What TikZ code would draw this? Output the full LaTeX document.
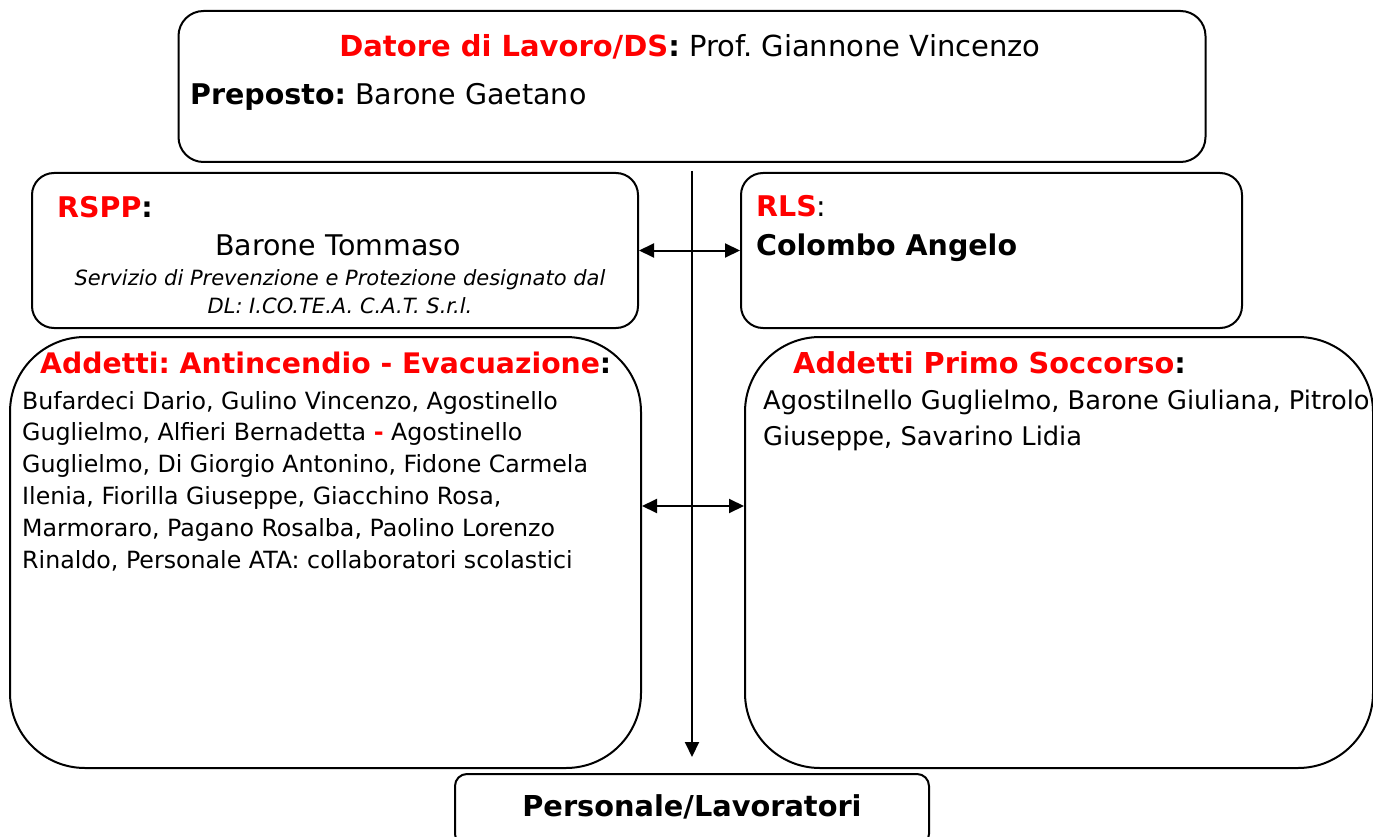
\documentclass[tikz,border=0pt]{standalone}
\usepackage{fontspec}
\setmainfont{DejaVu Sans}
\usetikzlibrary{arrows.meta,calc,positioning}
\definecolor{headred}{RGB}{255,0,0}
\newcommand{\hd}[1]{\textbf{\textcolor{headred}{#1}}}
\newcommand{\fs}[2]{\fontsize{#1}{#2}\selectfont}

\begin{document}
\frenchspacing
\begin{tikzpicture}[x=1pt, y=-1pt,
    box/.style={draw, line width=2pt, rounded corners=#1, inner sep=0pt},
    box/.default=22pt,
    link/.style={line width=2pt},
    tip/.tip={Triangle[length=15pt, width=14pt]},
    txt/.style={inner sep=0pt}]

        \useasboundingbox (0,0) rectangle (1373,837);

        % boxes
        \node[box=25pt, minimum width=1027pt, minimum height=151pt] (top) at (692,86.5) {};
        \node[box, minimum width=606pt, minimum height=155pt] (rspp) at (335,250.5) {};
        \node[box, minimum width=501pt, minimum height=155pt] (rls) at (991.5,250.5) {};
        \node[box=75pt, minimum width=631pt, minimum height=431pt] (anti) at (325.5,552.5) {};
        \node[box=75pt, minimum width=628pt, minimum height=431pt] (primo) at (1059,552.5) {};
        \node[box=12pt, minimum width=474pt, minimum height=72pt] (pers) at (692,810) {};

        % texts
        \node[txt, anchor=base, font=\fs{29}{34}] (ds) at (690,57)
            {\hd{Datore di Lavoro/DS}\textbf{:} Prof. Giannone Vincenzo};
        \node[txt, anchor=base west, font=\fs{28.5}{34}] (prep) at (190,105)
            {\textbf{Preposto:} Barone Gaetano};

        \node[txt, anchor=base west, font=\fs{28.5}{34}] (rsppt) at (57,218) {\hd{RSPP}\textbf{:}};
        \node[txt, anchor=base, font=\fs{28.5}{34}] (rsppn) at (338,255) {Barone Tommaso};
        % last line sits on the base anchor
        \node[txt, anchor=base, align=center, font=\fs{21}{28}\itshape] (rsppd) at (340,313)
            {Servizio di Prevenzione e Protezione designato dal\\DL: I.CO.TE.A. C.A.T. S.r.l.};

        \node[txt, anchor=base west, font=\fs{28.5}{34}] (rlst) at (756,216) {\hd{RLS}:};
        \node[txt, anchor=base west, font=\fs{28.5}{34}] (rlsn) at (756,255) {\textbf{Colombo Angelo}};

        \node[txt, anchor=base west, font=\fs{28.3}{32}] (antit) at (40,373)
            {\hd{Addetti: Antincendio - Evacuazione}\textbf{:}};
        \node[txt, anchor=base west, align=left, font=\fs{23.7}{31.8}] (antil) at (22,568)
            {Bufardeci Dario, Gulino Vincenzo, Agostinello\\
             Guglielmo, Alfieri Bernadetta \hd{-} Agostinello\\
             Guglielmo, Di Giorgio Antonino, Fidone Carmela\\
             Ilenia, Fiorilla Giuseppe, Giacchino Rosa,\\
             Marmoraro, Pagano Rosalba, Paolino Lorenzo\\
             Rinaldo, Personale ATA: collaboratori scolastici};

        \node[txt, anchor=base west, font=\fs{28.8}{32}] (primot) at (793,373)
            {\hd{Addetti Primo Soccorso}\textbf{:}};
        \node[txt, anchor=base west, align=left, font=\fs{25.7}{36}] (primol) at (763,445)
            {Agostilnello Guglielmo, Barone Giuliana, Pitrolo\\
             Giuseppe, Savarino Lidia};

        \node[txt, anchor=base, font=\fs{28.8}{34}] (perst) at (692,816) {\textbf{Personale/Lavoratori}};

        % connectors
        \coordinate (mid) at (693,506);
        \draw[link, -tip, shorten <=8pt, shorten >=16pt] (top.south) -- (top.south |- pers.north);
        \draw[link, tip-tip] (rspp.east) -- (rls.west);
        \draw[link, tip-tip] (anti.east |- mid) -- (primo.west |- mid);

\end{tikzpicture}
\end{document}
